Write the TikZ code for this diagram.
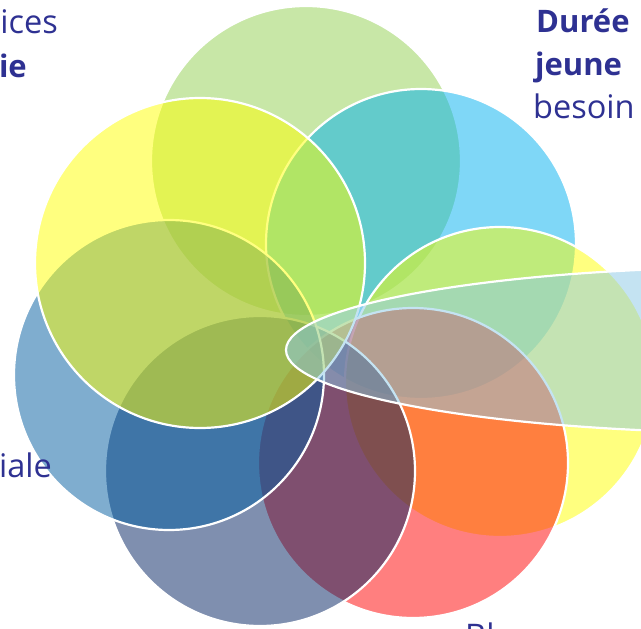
\documentclass[tikz,border=0pt]{standalone}
\usepackage{fontspec}
\setmainfont{Open Sans}
\definecolor{cA}{RGB}{146,208,80}
\definecolor{cB}{RGB}{0,176,240}
\definecolor{cC}{RGB}{255,255,0}
\definecolor{cD}{RGB}{255,0,0}
\definecolor{cE}{RGB}{0,32,96}
\definecolor{cF}{RGB}{0,92,160}
\definecolor{cG}{RGB}{255,255,0}
\definecolor{cH}{RGB}{139,201,231}
\definecolor{txt}{RGB}{46,49,146}
\begin{document}
\begin{tikzpicture}[x=1pt,y=-1pt,
  petal/.style={draw=white, line width=2.2pt, fill opacity=0.5},
  lbl/.style={text=txt, font=\fontsize{32.5}{43}\selectfont, inner sep=0pt},
  lblb/.style={text=txt, inner sep=0pt, font=\fontsize{31}{43}\selectfont\bfseries}]
\fill[white] (0,0) rectangle (641,629);
\useasboundingbox (0,0) rectangle (641,629);
% petals, in drawing order
\filldraw[petal, fill=cA] (306,161) circle [radius=155pt];
\filldraw[petal, fill=cB] (421,244) circle [radius=155pt];
\filldraw[petal, fill=cC] (500,382) circle [radius=155pt];
\filldraw[petal, fill=cD] (413,463) circle [radius=155pt];
\filldraw[petal, fill=cE] (260,471) circle [radius=155pt];
\filldraw[petal, fill=cF] (169,375) circle [radius=155pt];
\filldraw[petal, fill=cG] (200,263) circle [radius=165pt];
\filldraw[petal, fill=cH] (766,350) ellipse [x radius=480pt, y radius=83pt];
% texts
\node[lbl, anchor=base east] (t1) at (58,33) {ices};
\node[lblb, anchor=base east] (t2) at (27,77) {ie};
\node[lblb, anchor=base west] (t3) at (536,32) {Durée};
\node[lblb, anchor=base west] (t4) at (535,75) {jeune};
\node[lbl, anchor=base west] (t5) at (533,118) {besoin};
\node[lbl, anchor=base east] (t6) at (52,477) {iale};
\node[lbl, anchor=base west] (t7) at (465,647) {Bl};
\end{tikzpicture}
\end{document}
